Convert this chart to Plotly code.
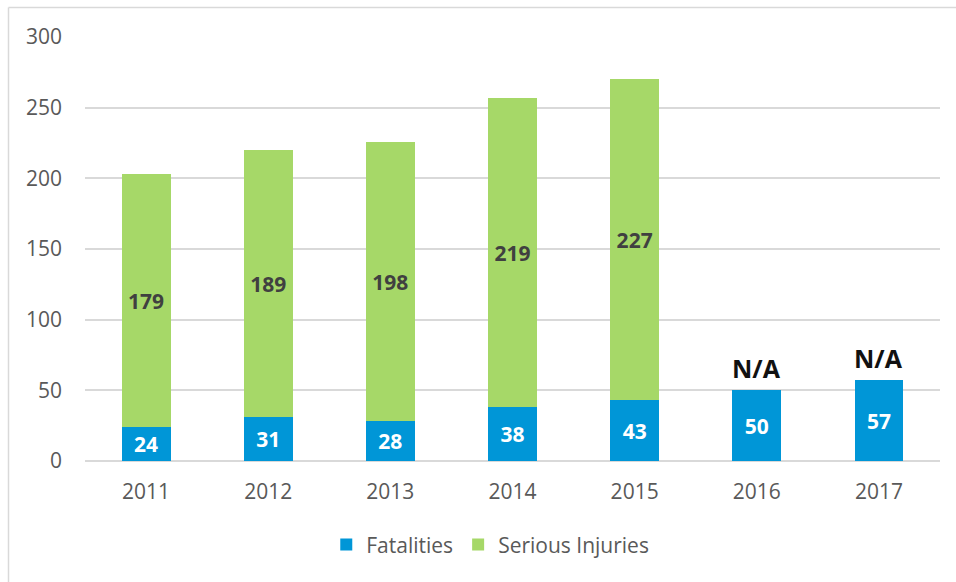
import plotly.graph_objects as go

years = ["2011", "2012", "2013", "2014", "2015", "2016", "2017"]
fatalities = [24, 31, 28, 38, 43, 50, 57]
serious_injuries = [179, 189, 198, 219, 227, None, None]
missing_label = "N/A"
y_ticks = [0, 50, 100, 150, 200, 250, 300]

BLUE = "#0096D7"
GREEN = "#A6D868"
FONT = "Open Sans"

W, H = 956, 582
L, R, T, B = 85, 16, 37, 121

fig = go.Figure()
fig.add_trace(go.Bar(
    name="Fatalities", x=years, y=fatalities,
    marker=dict(color=BLUE, line=dict(width=0)),
    text=[str(v) for v in fatalities], textposition="inside",
    insidetextanchor="middle", textangle=0,
    textfont=dict(family=FONT, size=21, color="white", weight="bold"),
))
fig.add_trace(go.Bar(
    name="Serious Injuries", x=years, y=serious_injuries,
    marker=dict(color=GREEN, line=dict(width=0)),
    text=[str(v) if v is not None else "" for v in serious_injuries],
    textposition="inside", insidetextanchor="middle", textangle=0,
    textfont=dict(family=FONT, size=21, color="#404040", weight="bold"),
))

# "N/A" above the years without serious-injury figures
# (category index used for x so the year is not read as a number)
for i, (f, s) in enumerate(zip(fatalities, serious_injuries)):
    if s is None:
        fig.add_annotation(
            x=i, y=f, xref="x", yref="y", text=missing_label, showarrow=False,
            yanchor="bottom", yshift=3,
            font=dict(family=FONT, size=25, color="#111111", weight="bold"),
        )

# outer frame (left and top edges)
pw, ph = W - L - R, H - T - B
x_left = (8.5 - L) / pw
y_top = 1 + (T - 7.5) / ph
y_bot = 1 + (T - H - 5) / ph
x_right = 1 + (W + 5 - L - pw) / pw
fig.add_shape(type="line", xref="paper", yref="paper",
              x0=x_left, x1=x_left, y0=y_bot, y1=y_top,
              line=dict(color="#D9D9D9", width=1.5))
fig.add_shape(type="line", xref="paper", yref="paper",
              x0=x_left, x1=x_right, y0=y_top, y1=y_top,
              line=dict(color="#D9D9D9", width=1.5))

fig.update_layout(
    width=W, height=H, barmode="stack", bargap=0.6,
    margin=dict(l=L, r=R, t=T, b=B),
    paper_bgcolor="white", plot_bgcolor="white",
    font=dict(family=FONT, size=21, color="#595959"),
    uniformtext=dict(mode=False),
    legend=dict(orientation="h", x=0.474, xanchor="center", y=-0.198, yanchor="middle",
                font=dict(family=FONT, size=21, color="#595959"),
                itemsizing="constant", traceorder="normal"),
    xaxis=dict(type="category", categoryorder="array", categoryarray=years,
               range=[-0.5, len(years) - 0.5],
               showgrid=False, showline=False, ticks="",
               ticklabelstandoff=16, tickfont=dict(size=21)),
    yaxis=dict(range=[0, 300], tickvals=y_ticks, showgrid=True,
               gridcolor="#D9D9D9", gridwidth=1.5, zeroline=True,
               zerolinecolor="#D9D9D9", zerolinewidth=1.5,
               ticks="", ticklabelstandoff=22, tickfont=dict(size=21)),
)

fig.write_html("out.html")
